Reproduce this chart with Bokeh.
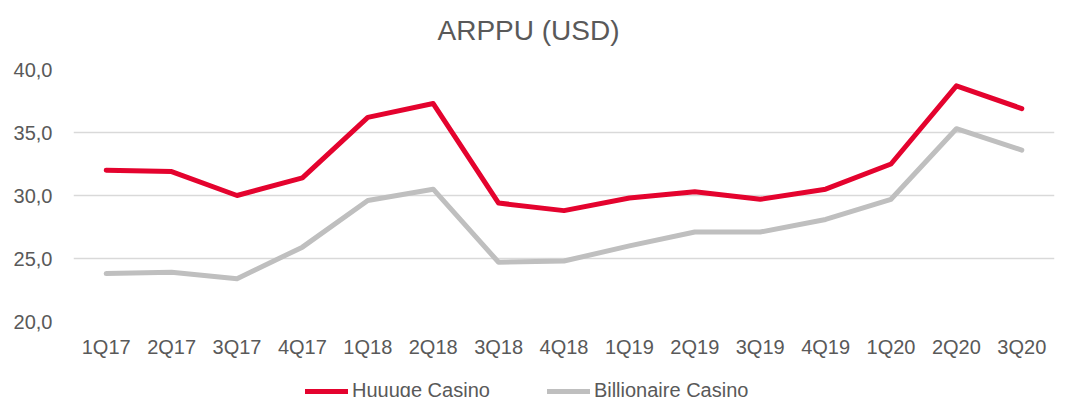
from bokeh.plotting import figure
from bokeh.layouts import column
from bokeh.models import Legend, LegendItem, FixedTicker, Range1d, Title
from bokeh.embed import file_html
from bokeh.resources import INLINE

quarters = ["1Q17", "2Q17", "3Q17", "4Q17", "1Q18", "2Q18", "3Q18", "4Q18",
            "1Q19", "2Q19", "3Q19", "4Q19", "1Q20", "2Q20", "3Q20"]
huuuge = [32.0, 31.9, 30.0, 31.4, 36.2, 37.3, 29.4, 28.8,
          29.8, 30.3, 29.7, 30.5, 32.5, 38.7, 36.9]
billionaire = [23.8, 23.9, 23.4, 25.9, 29.6, 30.5, 24.7, 24.8,
               26.0, 27.1, 27.1, 28.1, 29.7, 35.3, 33.6]
y_ticks = [20.0, 25.0, 30.0, 35.0, 40.0]
y_labels = ["20,0", "25,0", "30,0", "35,0", "40,0"]
series_names = ["Huuuge Casino", "Billionaire Casino"]
series_colors = ["#E4032E", "#BFBFBF"]
chart_title = "ARPPU (USD)"

FONT = "Liberation Sans"
TXT = "#595959"

p = figure(x_range=quarters, y_range=Range1d(20, 40), title=None,
           width=1070, height=360, output_backend="svg", toolbar_location=None,
           min_border_left=73, min_border_right=16, min_border_top=69,
           min_border_bottom=39)
p.x_range.range_padding = 0
p.outline_line_color = None
p.background_fill_color = "white"
p.border_fill_color = "white"

# spacer (closest to frame) then the real title above it
p.add_layout(Title(text=" ", text_font_size="7px", standoff=0), "above")
p.add_layout(Title(text=chart_title, align="left", offset=364,
                   vertical_align="top", standoff=25,
                   text_font=FONT, text_font_size="28px",
                   text_font_style="normal", text_color=TXT), "above")

p.line(quarters, huuuge, line_color=series_colors[0], line_width=5,
       line_join="round", line_cap="round")
p.line(quarters, billionaire, line_color=series_colors[1], line_width=5,
       line_join="round", line_cap="round")

p.xgrid.grid_line_color = None
p.ygrid.grid_line_color = "#D9D9D9"
p.ygrid.grid_line_width = 1.5
p.yaxis.ticker = FixedTicker(ticks=y_ticks)
p.yaxis.major_label_overrides = {t: l for t, l in zip(y_ticks, y_labels)}

for ax in (p.xaxis[0], p.yaxis[0]):
    ax.axis_line_color = None
    ax.major_tick_line_color = None
    ax.minor_tick_line_color = None
    ax.major_label_text_font = FONT
    ax.major_label_text_font_size = "20px"
    ax.major_label_text_color = TXT
p.yaxis.major_label_standoff = 15
p.xaxis.major_label_standoff = 8

# legend strip below the chart (frames are aligned by the column)
q = figure(width=1070, height=37, output_backend="svg", toolbar_location=None,
           x_range=Range1d(0, 1), y_range=Range1d(0, 1),
           min_border_left=73, min_border_right=16, min_border_top=0,
           min_border_bottom=0)
q.axis.visible = False
q.grid.visible = False
q.outline_line_color = None
items = []
for name, col in zip(series_names, series_colors):
    r = q.line(x=[5, 6], y=[5, 6], line_color=col, line_width=5, line_cap="round")
    items.append(LegendItem(label=name, renderers=[r]))

legend = Legend(items=items, orientation="horizontal", location=(232, -5),
                padding=0, margin=0, spacing=57, label_standoff=4,
                glyph_width=43, glyph_height=20, label_height=20,
                label_text_font=FONT, label_text_font_size="20px",
                label_text_color=TXT, border_line_color=None,
                background_fill_alpha=0)
q.add_layout(legend)

open("out.html", "w").write(file_html(column(p, q), INLINE))
